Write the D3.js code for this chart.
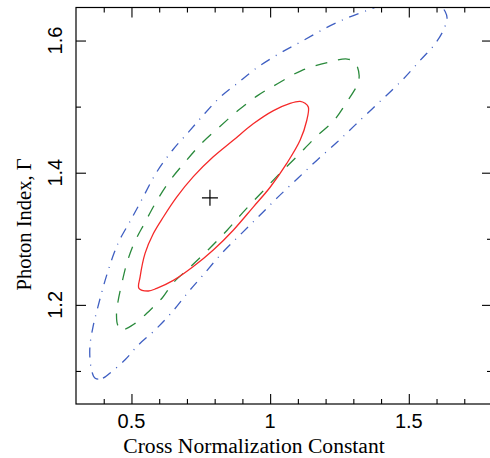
<!DOCTYPE html>
<html>
<head>
<meta charset="utf-8">
<script src="https://cdn.jsdelivr.net/npm/d3@7"></script>
<style>
  body { margin: 0; background: #fff; }
  svg { display: block; }
</style>
</head>
<body>
<svg id="chart" width="490" height="458"></svg>
<script>
// confidence contours, [cross normalization, photon index]
let contour68 = [
  [0.527,1.225],[0.531,1.242],[0.549,1.278],[0.579,1.308],[0.615,1.333],[0.663,1.363],
  [0.723,1.394],[0.795,1.424],[0.867,1.449],[0.939,1.474],[1.012,1.494],[1.072,1.505],
  [1.108,1.508],[1.126,1.505],[1.138,1.499],[1.132,1.479],[1.108,1.449],[1.060,1.414],
  [1.000,1.378],[0.939,1.348],[0.867,1.313],[0.795,1.283],[0.723,1.258],[0.651,1.237],
  [0.591,1.225],[0.561,1.221]
];
let contour90 = [
  [0.469,1.163],[0.451,1.169],[0.446,1.185],[0.451,1.204],[0.466,1.234],[0.484,1.264],
  [0.509,1.293],[0.549,1.325],[0.592,1.358],[0.635,1.386],[0.693,1.416],[0.754,1.445],
  [0.819,1.470],[0.884,1.494],[0.956,1.517],[1.028,1.535],[1.115,1.555],[1.209,1.567],
  [1.278,1.572],[1.306,1.567],[1.321,1.547],[1.313,1.532],[1.278,1.508],[1.230,1.479],
  [1.165,1.454],[1.093,1.423],[1.028,1.396],[0.967,1.369],[0.902,1.340],[0.845,1.313],
  [0.776,1.283],[0.711,1.257],[0.650,1.233],[0.610,1.210],[0.567,1.192],[0.513,1.172]
];
let contour99 = [
  [0.369,1.089],[0.397,1.089],[0.423,1.097],[0.477,1.117],[0.524,1.139],[0.585,1.162],
  [0.646,1.189],[0.704,1.219],[0.758,1.245],[0.830,1.280],[0.899,1.309],[0.964,1.336],
  [1.028,1.363],[1.101,1.392],[1.169,1.419],[1.241,1.446],[1.306,1.472],[1.389,1.505],
  [1.476,1.540],[1.541,1.570],[1.591,1.593],[1.624,1.615],[1.638,1.634],[1.631,1.644],
  [1.613,1.653],[1.569,1.659],[1.504,1.661],[1.432,1.658],[1.353,1.646],[1.277,1.634],
  [1.205,1.620],[1.119,1.600],[1.036,1.581],[0.953,1.559],[0.881,1.535],[0.819,1.514],
  [0.765,1.490],[0.711,1.464],[0.648,1.434],[0.588,1.399],[0.542,1.363],[0.497,1.328],
  [0.457,1.298],[0.437,1.278],[0.405,1.237],[0.379,1.197],[0.361,1.166],[0.350,1.136],
  [0.354,1.106]
];
let bestFit = [0.783, 1.362];

let xTicks = [0.5, 1, 1.5];
let xMinor = [0.4, 0.6, 0.7, 0.8, 0.9, 1.1, 1.2, 1.3, 1.4, 1.6, 1.7];
let yTicks = [1.2, 1.4, 1.6];
let yMinor = [1.1, 1.3, 1.5];

let xTitle = 'Cross Normalization Constant';
let yTitle = 'Photon Index, \u0393';

let plotL = 76, plotR = 492, plotT = 7.5, plotB = 404;

let xScale = d3.scaleLinear().domain([0.3, 1.8]).range([plotL, plotR]);
let yScale = d3.scaleLinear().domain([1.05, 1.65]).range([plotB, plotT]);

let svg = d3.select('#chart');

svg.append('clipPath').attr('id', 'plotclip')
  .append('rect')
  .attr('x', plotL).attr('y', plotT)
  .attr('width', plotR - plotL).attr('height', plotB - plotT);

let line = d3.line()
  .x(function(d){return xScale(d[0])})
  .y(function(d){return yScale(d[1])})
  .curve(d3.curveCatmullRomClosed.alpha(0.5));

let contours = [
  {pts: contour99, color: '#3f5fc2', dash: '10,7,1,7'},
  {pts: contour90, color: '#2a8a3c', dash: '12,11'},
  {pts: contour68, color: '#f52a2a', dash: null}
];

let g = svg.append('g').attr('clip-path', 'url(#plotclip)');
g.selectAll('path.contour')
  .data(contours)
  .join('path')
  .attr('class', 'contour')
  .attr('d', function(d){return line(d.pts)})
  .attr('fill', 'none')
  .attr('stroke', function(d){return d.color})
  .attr('stroke-width', 1.3)
  .attr('stroke-dasharray', function(d){return d.dash});

// best fit cross
svg.append('path')
  .attr('d', 'M' + (xScale(bestFit[0]) - 8) + ',' + yScale(bestFit[1]) + 'h16' +
             'M' + xScale(bestFit[0]) + ',' + (yScale(bestFit[1]) - 8) + 'v16')
  .attr('stroke', '#000')
  .attr('stroke-width', 1.2)
  .attr('fill', 'none');

// axes: major and minor ticks pointing inward on all four sides
function addAxis(axisFn, scale, ticks, size, transform) {
  let a = svg.append('g')
    .attr('transform', transform)
    .call(axisFn(scale).tickValues(ticks).tickSizeInner(-size).tickSizeOuter(0).tickFormat(''));
  a.select('.domain').remove();
  a.selectAll('line').attr('stroke', '#000').attr('stroke-width', 1.1);
}

addAxis(d3.axisBottom, xScale, xTicks, 10, 'translate(0,' + plotB + ')');
addAxis(d3.axisBottom, xScale, xMinor, 5, 'translate(0,' + plotB + ')');
addAxis(d3.axisTop, xScale, xTicks, 10, 'translate(0,' + plotT + ')');
addAxis(d3.axisTop, xScale, xMinor, 5, 'translate(0,' + plotT + ')');
addAxis(d3.axisLeft, yScale, yTicks, 10, 'translate(' + plotL + ',0)');
addAxis(d3.axisLeft, yScale, yMinor, 5, 'translate(' + plotL + ',0)');
addAxis(d3.axisRight, yScale, yTicks, 10, 'translate(' + plotR + ',0)');
addAxis(d3.axisRight, yScale, yMinor, 5, 'translate(' + plotR + ',0)');

svg.append('rect')
  .attr('x', plotL).attr('y', plotT)
  .attr('width', plotR - plotL).attr('height', plotB - plotT)
  .attr('fill', 'none')
  .attr('stroke', '#000')
  .attr('stroke-width', 1.2);

// tick labels
svg.selectAll('text.xlab')
  .data(xTicks)
  .join('text')
  .attr('class', 'xlab')
  .attr('x', function(d){return xScale(d)})
  .attr('y', 428)
  .attr('text-anchor', 'middle')
  .attr('font-family', 'Liberation Sans, Arial, sans-serif')
  .attr('font-size', 20)
  .text(function(d){return d});

svg.selectAll('text.ylab')
  .data(yTicks)
  .join('text')
  .attr('class', 'ylab')
  .attr('transform', function(d){return 'translate(62,' + yScale(d) + ') rotate(-90)'})
  .attr('text-anchor', 'middle')
  .attr('font-family', 'Liberation Sans, Arial, sans-serif')
  .attr('font-size', 20)
  .text(function(d){return d});

// axis titles
svg.append('text')
  .attr('x', 254)
  .attr('y', 453)
  .attr('text-anchor', 'middle')
  .attr('font-family', 'Liberation Serif, Times New Roman, serif')
  .attr('font-size', 21.6)
  .text(xTitle);

svg.append('text')
  .attr('transform', 'translate(31,224.5) rotate(-90)')
  .attr('text-anchor', 'middle')
  .attr('font-family', 'Liberation Serif, Times New Roman, serif')
  .attr('font-size', 20.5)
  .text(yTitle);
</script>
</body>
</html>
